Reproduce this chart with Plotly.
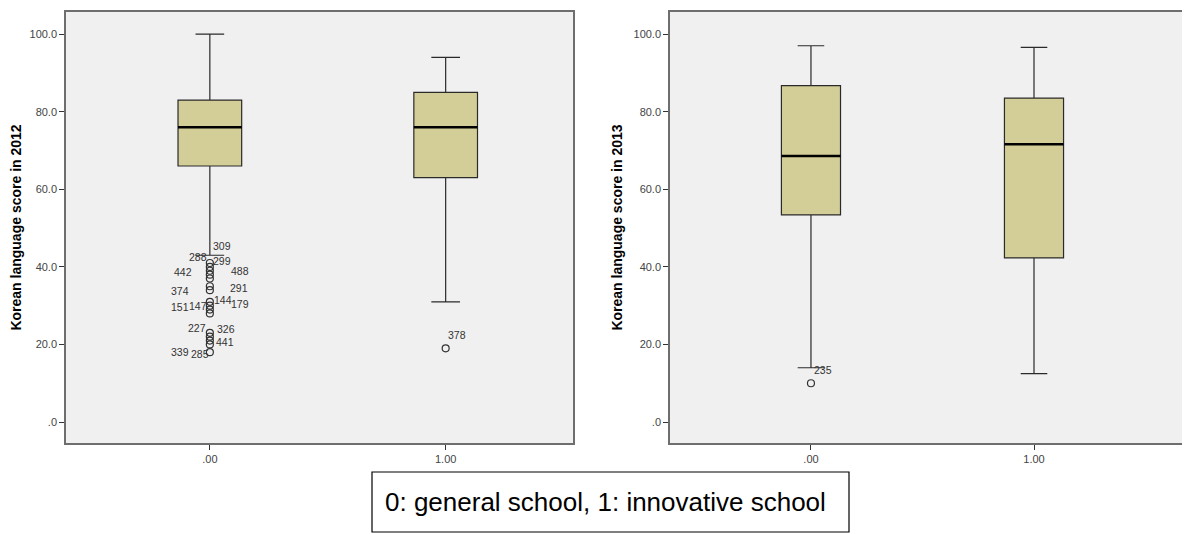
import plotly.graph_objects as go

# ---------------- data ----------------
groups = [0, 1]
group_labels = [".00", "1.00"]

# 2012 box statistics (group 0, group 1)
q1_2012 = [66.0, 63.0]
med_2012 = [76.0, 76.0]
q3_2012 = [83.0, 85.0]
lo_2012 = [43.0, 31.0]
hi_2012 = [100.0, 94.0]

# 2013 box statistics
q1_2013 = [53.4, 42.3]
med_2013 = [68.6, 71.6]
q3_2013 = [86.7, 83.5]
lo_2013 = [14.0, 12.5]
hi_2013 = [97.0, 96.6]

# outliers (values)
out2012_g0 = [41, 40, 39, 38, 37, 35, 34, 31, 30, 29, 28, 23, 22, 21, 20, 18]
out2012_g1 = [19]
out2013_g0 = [10]
out2013_g1 = []

# outlier case labels (text, value the label sits at)
lab2012_g0_text = ["309", "288", "299", "442", "488", "374", "291", "151",
                   "147", "144", "179", "227", "326", "441", "339", "285"]
lab2012_g0_val = [45.4, 42.6, 41.5, 38.7, 38.9, 33.9, 34.6, 29.6,
                  29.9, 31.4, 30.4, 24.2, 23.9, 20.6, 18.0, 17.5]
lab2012_g1_text = ["378"]
lab2012_g1_val = [22.4]
lab2013_g0_text = ["235"]
lab2013_g0_val = [13.4]

ytick_vals = [0, 20, 40, 60, 80, 100]
ytick_text = [".0", "20.0", "40.0", "60.0", "80.0", "100.0"]

caption = "0: general school, 1: innovative school"
ytitle_2012 = "Korean language score in 2012"
ytitle_2013 = "Korean language score in 2013"

# ---------------- style ----------------
W, H = 1190, 534
OFF = 8  # page body margin offset
BOX_FILL = "rgb(211,206,152)"
BOX_LINE = "#2a2a2a"
PLOT_BG = "#f0f0f0"
FONT = "Liberation Sans, Arial, sans-serif"

def px(x):
    return (x - OFF) / W

def py(y):
    return 1 - (y - OFF) / H

# label x-offsets in pixels (style)
lab2012_g0_dx = [12, -12, 12, -27, 30, -30, 29, -30, -12, 13, 30, -13, 16, 15, -30, -10]
lab2012_g1_dx = [11]
lab2013_g0_dx = [12]

fig = go.Figure()

def add_panel(q1, med, q3, lo, hi, outs, xa, ya, width):
    for i, g in enumerate(groups):
        fig.add_trace(go.Box(
            x=[g], q1=[q1[i]], median=[med[i]], q3=[q3[i]],
            lowerfence=[lo[i]], upperfence=[hi[i]],
            width=width, whiskerwidth=0.45,
            fillcolor=BOX_FILL, line=dict(color=BOX_LINE, width=1.2),
            boxpoints=False, showlegend=False, hoverinfo="skip",
            xaxis=xa, yaxis=ya))
        # thick median line
        fig.add_trace(go.Scatter(
            x=[g - width / 2, g + width / 2], y=[med[i], med[i]],
            mode="lines", line=dict(color="black", width=2.6),
            showlegend=False, hoverinfo="skip", xaxis=xa, yaxis=ya))
        if outs[i]:
            fig.add_trace(go.Scatter(
                x=[g] * len(outs[i]), y=outs[i], mode="markers",
                marker=dict(symbol="circle-open", size=7,
                            color="#333333", line=dict(width=1.2)),
                showlegend=False, hoverinfo="skip", xaxis=xa, yaxis=ya))

add_panel(q1_2012, med_2012, q3_2012, lo_2012, hi_2012,
          [out2012_g0, out2012_g1], "x", "y", 0.27)
add_panel(q1_2013, med_2013, q3_2013, lo_2013, hi_2013,
          [out2013_g0, out2013_g1], "x2", "y2", 0.265)

annotations = []
def add_labels(texts, vals, dxs, g, xref, yref):
    for t, v, dx in zip(texts, vals, dxs):
        annotations.append(dict(
            x=g, y=v, xref=xref, yref=yref, text=t, showarrow=False,
            xshift=dx, font=dict(family=FONT, size=10.5, color="#333333")))

add_labels(lab2012_g0_text, lab2012_g0_val, lab2012_g0_dx, 0, "x", "y")
add_labels(lab2012_g1_text, lab2012_g1_val, lab2012_g1_dx, 1, "x", "y")
add_labels(lab2013_g0_text, lab2013_g0_val, lab2013_g0_dx, 0, "x2", "y2")

# caption
cx0, cx1, cy0, cy1 = 372, 849, 472, 532
annotations.append(dict(
    x=px(383), y=py((cy0 + cy1) / 2), xref="paper", yref="paper",
    xanchor="left", yanchor="middle", text=caption, showarrow=False,
    font=dict(family=FONT, size=26, color="black")))

shapes = [dict(type="rect", xref="paper", yref="paper",
               x0=px(cx0), x1=px(cx1), y0=py(cy1), y1=py(cy0),
               line=dict(color="black", width=1.2), fillcolor="white")]

axis_common = dict(showgrid=False, zeroline=False, showline=True,
                   linecolor="#6e6e6e", linewidth=1.5, mirror=True,
                   ticks="outside", ticklen=5, tickcolor="#333333",
                   tickfont=dict(family=FONT, size=11, color="#444444"))

ydom = [py(443), py(12)]
yrange = [-5.4, 105.7]
title_font = dict(family=FONT, size=14, color="black")

fig.update_layout(
    width=W, height=H, margin=dict(l=0, r=0, t=0, b=0),
    paper_bgcolor="white", plot_bgcolor=PLOT_BG,
    annotations=annotations, shapes=shapes,
    xaxis=dict(domain=[px(66), px(573)], range=[-0.61, 1.54],
               tickvals=groups, ticktext=group_labels, **axis_common),
    yaxis=dict(domain=ydom, range=yrange, tickvals=ytick_vals,
               ticktext=ytick_text,
               title=dict(text="<b>" + ytitle_2012 + "</b>", standoff=8,
                          font=title_font),
               **axis_common),
    xaxis2=dict(domain=[px(670), px(1187)], range=[-0.632, 1.686],
                tickvals=groups, ticktext=group_labels, anchor="y2",
                **axis_common),
    yaxis2=dict(domain=ydom, range=yrange, tickvals=ytick_vals,
                ticktext=ytick_text, anchor="x2",
                title=dict(text="<b>" + ytitle_2013 + "</b>", standoff=8,
                           font=title_font),
                **axis_common),
)

fig.write_html("out.html")
